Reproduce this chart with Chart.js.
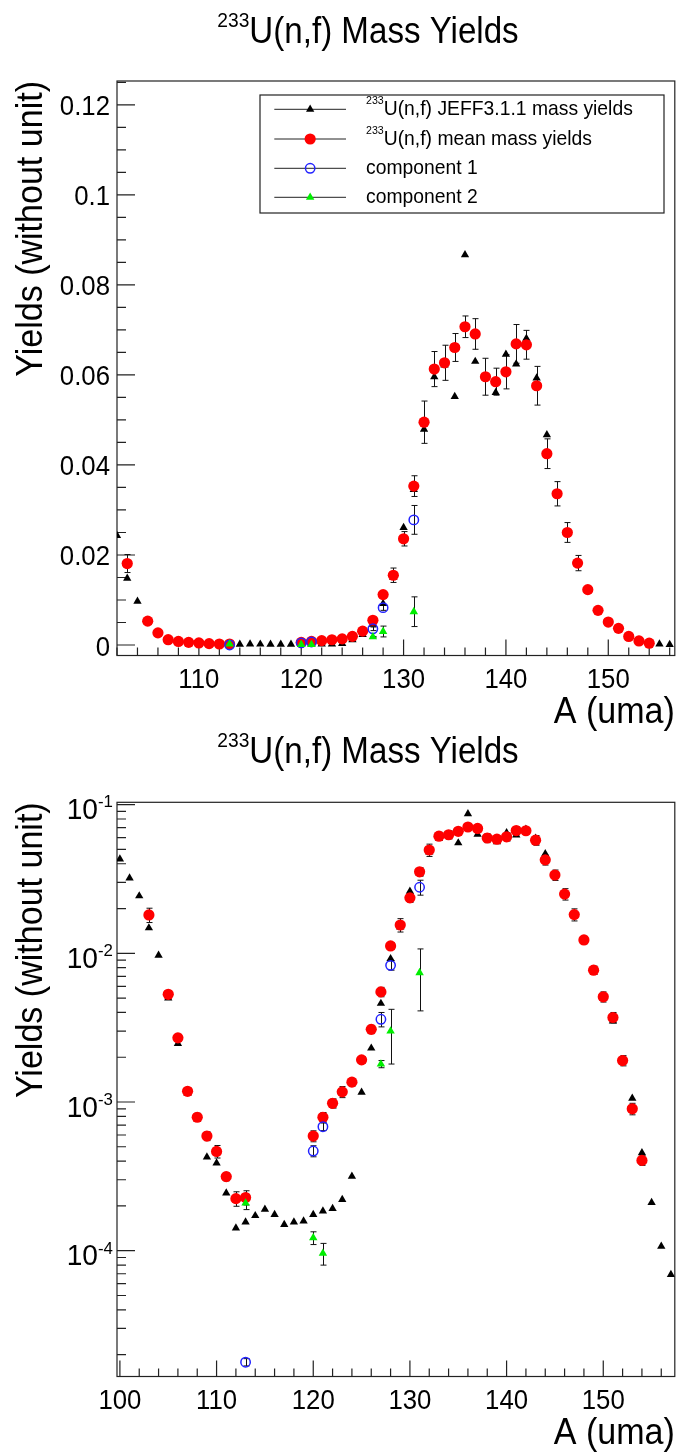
<!DOCTYPE html>
<html>
<head>
<meta charset="utf-8">
<script src="https://cdn.jsdelivr.net/npm/chart.js@4.4.1/dist/chart.umd.min.js"></script>
<style>
  html, body { margin: 0; padding: 0; background: #fff; }
  body { position: relative; width: 681px; height: 1452px; overflow: hidden; }
  canvas { position: absolute; left: 0; }
</style>
</head>
<body>
<canvas id="linChart" width="681" height="740" style="top:0;width:681px;height:740px"></canvas>
<canvas id="logChart" width="681" height="726" style="top:726px;width:681px;height:726px"></canvas>
<script>
// 233U(n,f) mass yields (linear and log)

const massJeff = [100, 101, 102, 103, 104, 105, 106, 107, 108, 109,
    110, 111, 112, 113, 114, 115, 116, 117, 118, 119,
    120, 121, 122, 123, 124, 125, 126, 127, 128, 129,
    130, 131, 132, 133, 134, 135, 136, 137, 138, 139,
    140, 141, 142, 143, 144, 145, 146, 147, 148, 149,
    150, 151, 152, 153, 154, 155, 156, 157];
const yieldJeff = [0.043, 0.032, 0.0243, 0.0148, 0.0097, 0.0050, 0.00247, 0.00115, 0.00077, 0.000426,
    0.000389, 0.000244, 0.000142, 0.000156, 0.000172, 0.00019, 0.000175, 0.00015, 0.000156, 0.000158,
    0.000175, 0.000185, 0.000192, 0.000221, 0.000316, 0.00116, 0.0023, 0.0046, 0.0092, 0.0150,
    0.0261, 0.0345, 0.0479, 0.0596, 0.0622, 0.0552, 0.0867, 0.0630, 0.0594, 0.0561,
    0.0646, 0.0624, 0.0681, 0.0593, 0.0467, 0.0334, 0.0249, 0.0180, 0.0121, 0.0077,
    0.0050, 0.0035, 0.0019, 0.00106, 0.000455, 0.000211, 0.000107, 0.000069];

const massMean = [103, 105, 106, 107, 108, 109, 110, 111, 112, 113,
    120, 121, 122, 123, 124, 125, 126, 127, 128, 129,
    130, 131, 132, 133, 134, 135, 136, 137, 138, 139,
    140, 141, 142, 143, 144, 145, 146, 147, 148, 149,
    150, 151, 152, 153, 154];
const yieldMean = [0.0181, 0.0053, 0.0027, 0.00118, 0.00079, 0.00059, 0.000465, 0.000315, 0.000224, 0.000228,
    0.00059, 0.00079, 0.00098, 0.00117, 0.00136, 0.00192, 0.00308, 0.0055, 0.0112, 0.0155,
    0.0236, 0.0353, 0.0495, 0.0613, 0.0627, 0.0661, 0.0707, 0.0691, 0.0596, 0.0585,
    0.0607, 0.0669, 0.0667, 0.0576, 0.0425, 0.0336, 0.0250, 0.0182, 0.0123, 0.0077,
    0.0051, 0.0037, 0.0019, 0.0009, 0.000405];
const errMean = [0.002, 0.0003, 0.00015, 0.00006, 0.00005, 0.00004, 0.000045, 0.00002, 0.000025, 0.000025,
    0.00005, 0.00006, 0.00007, 0.0001, 0.00008, 0.0001, 0.0002, 0.0004, 0.0006, 0.0016,
    0.0016, 0.0023, 0.0047, 0.0039, 0.0039, 0.0031, 0.0024, 0.0034, 0.0041, 0.0030,
    0.0038, 0.0043, 0.0032, 0.0043, 0.0033, 0.0027, 0.0022, 0.0017, 0.0007, 0.0005,
    0.0004, 0.0003, 0.00015, 0.00008, 0.00003];

const massComp = [113, 120, 121, 127, 128, 131];
const yieldComp1 = [0.0000178, 0.000468, 0.000682, 0.0036, 0.0083, 0.0278];
const errComp1 = [0.000001, 0.00004, 0.00004, 0.0004, 0.0006, 0.0032];
const yieldComp2 = [0.000209, 0.000122, 0.000096, 0.0018, 0.0030, 0.0074];
const errComp2 = [0.00002, 0.000012, 0.000016, 0.0001, 0.0012, 0.0033];

const linXTicks = [110, 120, 130, 140, 150];
const linYTicks = [0, 0.02, 0.04, 0.06, 0.08, 0.1, 0.12];
const logXTicks = [100, 110, 120, 130, 140, 150];
const logYTicks = [1e-4, 1e-3, 1e-2, 1e-1];

const seriesLabels = ['^{233}U(n,f) JEFF3.1.1 mass yields', '^{233}U(n,f) mean mass yields',
    'component 1', 'component 2'];
const chartTitle = '^{233}U(n,f) Mass Yields';
const xTitle = 'A (uma)';
const yTitle = 'Yields (without unit)';

const FONT = '"Liberation Sans", Arial, Helvetica, sans-serif';
const SQUEEZE = 0.92;   // ROOT's Helvetica renders a little narrower

function toPoints(xs, ys) {
    return xs.map((x, i) => ({ x: x, y: ys[i] }));
}

function splitRich(text) {
    const segs = [];
    const re = /\^\{([^}]*)\}/g;
    let last = 0, m;
    while ((m = re.exec(text))) {
        if (m.index > last) segs.push({ t: text.slice(last, m.index), sup: false });
        segs.push({ t: m[1], sup: true });
        last = re.lastIndex;
    }
    if (last < text.length) segs.push({ t: text.slice(last), sup: false });
    return segs;
}

// text with ^{...} superscripts, baseline at y
function drawRich(ctx, text, x, y, size, align, opt) {
    opt = opt || {};
    const segs = splitRich(text);
    const supSize = size * (opt.sup || 0.57), raise = size * (opt.raise || 0.44);
    const sq = opt.squeeze || SQUEEZE;
    let w = 0;
    segs.forEach(s => {
        ctx.font = (s.sup ? supSize : size) + 'px ' + FONT;
        s.w = ctx.measureText(s.t).width * sq;
        w += s.w;
    });
    ctx.save();
    ctx.translate(x, y);
    if (opt.rotation) ctx.rotate(opt.rotation);
    let cx = align === 'center' ? -w / 2 : (align === 'right' ? -w : 0);
    ctx.fillStyle = '#000';
    ctx.textAlign = 'left';
    ctx.textBaseline = 'alphabetic';
    segs.forEach(s => {
        ctx.font = (s.sup ? supSize : size) + 'px ' + FONT;
        ctx.save();
        ctx.translate(cx, s.sup ? -raise : 0);
        ctx.scale(sq, 1);
        ctx.fillText(s.t, 0, 0);
        ctx.restore();
        cx += s.w;
    });
    ctx.restore();
}

function makeDatasets() {
    return [{
        label: seriesLabels[0],
        data: toPoints(massJeff, yieldJeff),
        pointStyle: 'triangle', pointRadius: 4.8, pointBorderWidth: 0,
        backgroundColor: '#000000', borderColor: '#000000',
        order: 4
    }, {
        label: seriesLabels[1],
        data: toPoints(massMean, yieldMean),
        errors: errMean,
        pointStyle: 'circle', pointRadius: 5.6, pointBorderWidth: 0,
        backgroundColor: '#ff0000', borderColor: '#ff0000',
        order: 3
    }, {
        label: seriesLabels[2],
        data: toPoints(massComp, yieldComp1),
        errors: errComp1,
        pointStyle: 'circle', pointRadius: 4.7, pointBorderWidth: 1.5,
        backgroundColor: 'rgba(255,255,255,0)', borderColor: '#2222ff',
        order: 2
    }, {
        label: seriesLabels[3],
        data: toPoints(massComp, yieldComp2),
        errors: errComp2,
        pointStyle: 'triangle', pointRadius: 4.9, pointBorderWidth: 0,
        backgroundColor: '#00ee00', borderColor: '#00ee00',
        order: 1
    }];
}

// frame, inward ticks, error bars, labels, titles, legend (ROOT look)
const rootPad = {
    id: 'rootPad',
    beforeDatasetsDraw(chart, args, opts) {
        const ctx = chart.ctx;
        const a = chart.chartArea;
        const xs = chart.scales.x, ys = chart.scales.y;
        ctx.save();
        ctx.strokeStyle = '#222';
        ctx.lineWidth = 1.2;
        ctx.strokeRect(a.left, a.top, a.right - a.left, a.bottom - a.top);

        ctx.beginPath();
        // x ticks: major every 10, minor every 2
        for (let v = Math.ceil(xs.min / 2) * 2; v <= xs.max; v += 2) {
            const px = xs.getPixelForValue(v);
            const len = v % 10 === 0 ? 16 : 8;
            ctx.moveTo(px, a.bottom);
            ctx.lineTo(px, a.bottom - len);
        }
        // y ticks
        if (opts.logY) {
            for (let e = -6; e <= 0; e++) {
                for (let k = 1; k <= 9; k++) {
                    const v = k * Math.pow(10, e);
                    if (v < ys.min || v > ys.max) continue;
                    const py = ys.getPixelForValue(v);
                    ctx.moveTo(a.left, py);
                    ctx.lineTo(a.left + (k === 1 ? 18 : 9), py);
                }
            }
        } else {
            for (let i = Math.ceil(ys.min / 0.005); i * 0.005 <= ys.max; i++) {
                const py = ys.getPixelForValue(i * 0.005);
                ctx.moveTo(a.left, py);
                ctx.lineTo(a.left + (i % 4 === 0 ? 18 : 9), py);
            }
        }
        ctx.stroke();

        // error bars
        ctx.save();
        ctx.beginPath();
        ctx.rect(a.left, a.top, a.right - a.left, a.bottom - a.top);
        ctx.clip();
        ctx.strokeStyle = '#111';
        ctx.lineWidth = 1;
        chart.data.datasets.forEach((ds, di) => {
            if (!ds.errors) return;
            const meta = chart.getDatasetMeta(di);
            ds.data.forEach((p, j) => {
                const el = meta.data[j];
                const e = ds.errors[j];
                const lo = p.y - e > 0 || !opts.logY ? ys.getPixelForValue(p.y - e) : a.bottom;
                const hi = ys.getPixelForValue(p.y + e);
                const x = Math.round(el.x) + 0.5;
                ctx.beginPath();
                ctx.moveTo(x, lo); ctx.lineTo(x, hi);
                ctx.moveTo(x - 3, lo); ctx.lineTo(x + 3, lo);
                ctx.moveTo(x - 3, hi); ctx.lineTo(x + 3, hi);
                ctx.stroke();
            });
        });
        ctx.restore();
        ctx.restore();
    },
    afterDatasetsDraw(chart, args, opts) {
        const ctx = chart.ctx;
        const a = chart.chartArea;
        const xs = chart.scales.x, ys = chart.scales.y;

        xs.ticks.forEach(t => {
            drawRich(ctx, String(t.value), xs.getPixelForValue(t.value), a.bottom + 32.5, 28, 'center');
        });
        ys.ticks.forEach(t => {
            const py = ys.getPixelForValue(t.value);
            if (opts.logY) {
                const ex = Math.round(Math.log10(t.value));
                drawRich(ctx, '10^{' + ex + '}', a.left - 4, py + 14.5, 29, 'right',
                    { sup: 0.6, raise: 0.4, squeeze: 0.97 });
            } else {
                drawRich(ctx, String(+t.value.toFixed(3)), a.left - 7, py + 10.5, 28, 'right');
            }
        });

        drawRich(ctx, xTitle, a.right, a.bottom + 67.5, 37, 'right');
        drawRich(ctx, yTitle, 41.5, a.top, 37, 'right', { rotation: -Math.PI / 2 });
        drawRich(ctx, chartTitle, 368, opts.titleY, 36, 'center', { sup: 0.58 });

        if (opts.legend) {
            const L = opts.legend;
            ctx.save();
            ctx.fillStyle = '#fff';
            ctx.fillRect(L.left, L.top, L.right - L.left, L.bottom - L.top);
            ctx.strokeStyle = '#222';
            ctx.lineWidth = 1.2;
            ctx.strokeRect(L.left, L.top, L.right - L.left, L.bottom - L.top);
            chart.data.datasets.forEach((ds, i) => {
                const ry = L.rows[i];
                ctx.strokeStyle = '#222';
                ctx.lineWidth = 1;
                ctx.beginPath();
                ctx.moveTo(L.lineFrom, ry);
                ctx.lineTo(L.lineTo, ry);
                ctx.stroke();
                ctx.fillStyle = ds.backgroundColor;
                ctx.strokeStyle = ds.borderColor;
                ctx.lineWidth = ds.pointBorderWidth;
                Chart.helpers.drawPoint(ctx, {
                    pointStyle: ds.pointStyle, radius: ds.pointRadius,
                    borderWidth: ds.pointBorderWidth, rotation: 0
                }, (L.lineFrom + L.lineTo) / 2, ry);
                drawRich(ctx, ds.label, L.textX, ry + 6, 21, 'left', { sup: 0.55, raise: 0.52 });
            });
            ctx.restore();
        }
    }
};

function fixedTicks(list) {
    return scale => { scale.ticks = list.map(v => ({ value: v })); };
}

function makeChart(id, cfg) {
    return new Chart(document.getElementById(id), {
        type: 'scatter',
        data: { datasets: makeDatasets() },
        options: {
            responsive: false,
            animation: false,
            events: [],
            layout: { padding: { left: 0, top: cfg.padTop, right: 3, bottom: 0 } },
            plugins: {
                legend: { display: false },
                tooltip: { enabled: false },
                rootPad: { logY: cfg.logY, titleY: cfg.titleY, legend: cfg.legend }
            },
            scales: {
                x: {
                    type: 'linear',
                    min: cfg.xMin, max: cfg.xMax,
                    afterBuildTicks: fixedTicks(cfg.xTicks),
                    afterFit: s => { s.height = cfg.xHeight; },
                    grid: { display: false, drawTicks: false },
                    border: { display: false },
                    ticks: { display: false }
                },
                y: {
                    type: cfg.logY ? 'logarithmic' : 'linear',
                    min: cfg.yMin, max: cfg.yMax,
                    afterBuildTicks: fixedTicks(cfg.yTicks),
                    afterFit: s => { s.width = 117; },
                    grid: { display: false, drawTicks: false },
                    border: { display: false },
                    ticks: { display: false }
                }
            }
        },
        plugins: [rootPad]
    });
}

makeChart('linChart', {
    logY: false,
    padTop: 81, xHeight: 84.5, titleY: 42.7,
    xMin: 102, xMax: 156.5, yMin: -0.00233, yMax: 0.1253,
    xTicks: linXTicks, yTicks: linYTicks,
    legend: {
        left: 260, right: 664, top: 95, bottom: 213,
        rows: [109.3, 139, 168.3, 197.3],
        lineFrom: 274.3, lineTo: 346, textX: 366
    }
});

makeChart('logChart', {
    logY: true,
    padTop: 76.3, xHeight: 75.5, titleY: 36.5,
    xMin: 99.7, xMax: 157.4, yMin: 1.426e-5, yMax: 0.1036,
    xTicks: logXTicks, yTicks: logYTicks,
    legend: null
});
</script>
</body>
</html>
